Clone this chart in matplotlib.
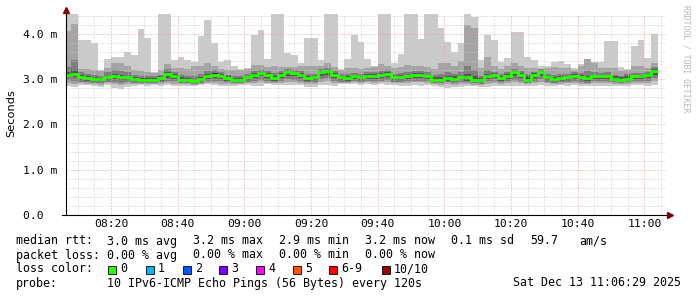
import numpy as np
import matplotlib
matplotlib.use("Agg")
import matplotlib.pyplot as plt
from matplotlib.patches import Rectangle
from matplotlib.lines import Line2D

# 10 pings every 120 s, values in ms, sorted per step (p1 = min ... p10 = max)
rtt_max = [4.6, 4.6, 3.87, 3.87, 3.81, 3.20, 3.45, 3.48, 3.48, 3.60,
           3.54, 4.10, 3.90, 3.15, 4.6, 4.6, 3.42, 3.48, 3.42, 3.38,
           3.95, 4.30, 3.80, 3.38, 3.42, 3.30, 3.22, 3.25, 3.98, 4.08,
           3.44, 4.6, 4.6, 3.57, 3.53, 3.36, 3.90, 3.90, 3.42, 4.6,
           4.6, 3.23, 3.44, 3.98, 3.82, 3.44, 3.30, 4.6, 4.6, 3.36,
           3.55, 4.6, 4.6, 3.88, 4.6, 4.6, 4.12, 3.82, 3.60, 3.80,
           4.6, 4.38, 3.42, 3.97, 3.86, 3.38, 3.47, 4.04, 4.04, 3.48,
           3.42, 3.30, 3.30, 3.38, 3.40, 3.33, 3.24, 3.33, 3.45, 3.39,
           3.38, 3.84, 3.84, 3.27, 3.23, 3.74, 3.86, 3.47, 4.00]
rtt_p9 = [4.07, 4.21, 3.23, 3.23, 3.20, 3.18, 3.25, 3.35, 3.35, 3.30,
          3.20, 3.18, 3.16, 3.13, 3.20, 3.33, 3.25, 3.25, 3.22, 3.30,
          3.30, 3.35, 3.30, 3.22, 3.20, 3.20, 3.20, 3.22, 3.32, 3.32,
          3.28, 3.30, 3.28, 3.28, 3.28, 3.30, 3.30, 3.30, 3.30, 3.35,
          3.28, 3.20, 3.25, 3.25, 3.22, 3.25, 3.28, 3.33, 3.30, 3.25,
          3.28, 3.32, 3.30, 3.30, 3.28, 3.22, 3.35, 3.35, 3.30, 3.40,
          4.20, 4.12, 3.25, 3.50, 3.30, 3.22, 3.30, 3.35, 3.30, 3.25,
          3.25, 3.22, 3.25, 3.28, 3.25, 3.25, 3.20, 3.30, 3.45, 3.35,
          3.25, 3.25, 3.25, 3.18, 3.20, 3.30, 3.30, 3.25, 3.35]
rtt_p8 = [3.28, 3.43, 3.15, 3.12, 3.10, 3.08, 3.15, 3.20, 3.18, 3.15,
          3.10, 3.08, 3.08, 3.06, 3.10, 3.22, 3.16, 3.10, 3.08, 3.08,
          3.12, 3.18, 3.20, 3.15, 3.10, 3.08, 3.08, 3.12, 3.18, 3.20,
          3.17, 3.14, 3.18, 3.22, 3.20, 3.18, 3.12, 3.12, 3.22, 3.25,
          3.18, 3.12, 3.12, 3.14, 3.12, 3.15, 3.15, 3.18, 3.20, 3.12,
          3.14, 3.16, 3.18, 3.18, 3.16, 3.10, 3.12, 3.16, 3.12, 3.15,
          3.30, 3.20, 3.08, 3.20, 3.16, 3.12, 3.15, 3.22, 3.18, 3.12,
          3.16, 3.22, 3.12, 3.10, 3.12, 3.12, 3.15, 3.14, 3.18, 3.16,
          3.14, 3.15, 3.10, 3.08, 3.12, 3.14, 3.14, 3.16, 3.26]
rtt_p7 = [3.16, 3.20, 3.09, 3.06, 3.04, 3.03, 3.08, 3.12, 3.09, 3.08,
          3.04, 3.02, 3.02, 3.02, 3.06, 3.15, 3.12, 3.04, 3.02, 3.00,
          3.05, 3.12, 3.14, 3.11, 3.06, 3.03, 3.03, 3.08, 3.14, 3.16,
          3.13, 3.08, 3.14, 3.19, 3.16, 3.14, 3.07, 3.08, 3.18, 3.21,
          3.14, 3.08, 3.07, 3.10, 3.08, 3.12, 3.11, 3.14, 3.16, 3.08,
          3.09, 3.10, 3.13, 3.14, 3.10, 3.04, 3.05, 3.08, 3.06, 3.08,
          3.12, 3.06, 3.03, 3.12, 3.13, 3.08, 3.11, 3.19, 3.14, 3.06,
          3.13, 3.19, 3.08, 3.05, 3.07, 3.08, 3.11, 3.09, 3.08, 3.10,
          3.10, 3.10, 3.06, 3.04, 3.06, 3.10, 3.10, 3.12, 3.22]
rtt_p6 = [3.12, 3.14, 3.07, 3.03, 3.02, 3.01, 3.06, 3.09, 3.06, 3.05,
          3.02, 2.99, 3.00, 3.00, 3.03, 3.13, 3.10, 3.01, 2.99, 2.97,
          3.02, 3.09, 3.13, 3.09, 3.03, 3.01, 3.00, 3.06, 3.12, 3.14,
          3.11, 3.05, 3.12, 3.17, 3.14, 3.12, 3.05, 3.06, 3.17, 3.20,
          3.12, 3.06, 3.05, 3.08, 3.06, 3.10, 3.09, 3.12, 3.14, 3.06,
          3.06, 3.08, 3.11, 3.12, 3.08, 3.01, 3.01, 3.04, 3.03, 3.06,
          3.06, 3.01, 3.01, 3.09, 3.11, 3.05, 3.09, 3.17, 3.12, 3.02,
          3.11, 3.18, 3.06, 3.02, 3.05, 3.06, 3.09, 3.07, 3.04, 3.08,
          3.08, 3.08, 3.03, 3.01, 3.03, 3.08, 3.08, 3.11, 3.21]
rtt_median = [3.10, 3.12, 3.05, 3.02, 3.00, 3.00, 3.04, 3.07, 3.04, 3.04,
              3.00, 2.98, 2.98, 2.99, 3.02, 3.11, 3.08, 2.99, 2.98, 2.95,
              3.00, 3.07, 3.10, 3.07, 3.02, 2.99, 2.99, 3.04, 3.10, 3.13,
              3.09, 3.03, 3.10, 3.16, 3.13, 3.10, 3.03, 3.04, 3.15, 3.18,
              3.10, 3.04, 3.03, 3.06, 3.04, 3.08, 3.07, 3.10, 3.12, 3.04,
              3.04, 3.06, 3.09, 3.10, 3.06, 2.99, 2.99, 3.02, 3.01, 3.04,
              3.04, 2.99, 2.99, 3.07, 3.09, 3.03, 3.07, 3.15, 3.10, 2.99,
              3.09, 3.16, 3.04, 3.00, 3.03, 3.04, 3.07, 3.05, 3.02, 3.06,
              3.06, 3.06, 3.01, 2.99, 3.01, 3.06, 3.06, 3.09, 3.19]
rtt_p5 = [3.08, 3.10, 3.03, 3.01, 2.98, 2.99, 3.02, 3.05, 3.02, 3.03,
          2.98, 2.97, 2.96, 2.98, 3.01, 3.09, 3.06, 2.97, 2.97, 2.93,
          2.98, 3.05, 3.07, 3.05, 3.01, 2.97, 2.98, 3.02, 3.08, 3.12,
          3.07, 3.01, 3.08, 3.15, 3.12, 3.08, 3.01, 3.02, 3.13, 3.16,
          3.08, 3.02, 3.01, 3.04, 3.02, 3.06, 3.05, 3.08, 3.10, 3.02,
          3.02, 3.04, 3.07, 3.08, 3.04, 2.97, 2.97, 3.00, 2.99, 3.02,
          3.02, 2.97, 2.97, 3.05, 3.07, 3.01, 3.05, 3.13, 3.08, 2.96,
          3.07, 3.14, 3.02, 2.98, 3.01, 3.02, 3.05, 3.03, 3.00, 3.04,
          3.04, 3.04, 2.99, 2.97, 2.99, 3.04, 3.04, 3.07, 3.17]
rtt_p4 = [3.04, 3.05, 2.99, 2.97, 2.95, 2.96, 2.98, 3.00, 2.98, 2.99,
          2.95, 2.94, 2.93, 2.95, 2.97, 3.02, 3.00, 2.94, 2.94, 2.91,
          2.95, 3.00, 3.02, 3.00, 2.97, 2.94, 2.95, 2.98, 3.03, 3.06,
          3.02, 2.97, 3.03, 3.08, 3.06, 3.03, 2.97, 2.98, 3.07, 3.10,
          3.03, 2.98, 2.97, 3.00, 2.98, 3.01, 3.01, 3.03, 3.04, 2.98,
          2.98, 3.00, 3.02, 3.03, 3.00, 2.94, 2.94, 2.96, 2.95, 2.98,
          2.97, 2.94, 2.93, 3.00, 3.02, 2.97, 3.00, 3.06, 3.03, 2.93,
          3.02, 3.07, 2.98, 2.95, 2.97, 2.98, 3.00, 2.99, 2.96, 3.00,
          3.00, 3.00, 2.96, 2.94, 2.96, 3.00, 3.00, 3.02, 3.10]
rtt_p3 = [2.98, 2.97, 2.94, 2.93, 2.92, 2.92, 2.94, 2.93, 2.92, 2.93,
          2.92, 2.92, 2.91, 2.92, 2.93, 2.96, 2.95, 2.92, 2.92, 2.89,
          2.92, 2.95, 2.96, 2.95, 2.93, 2.92, 2.92, 2.94, 2.97, 2.99,
          2.97, 2.94, 2.97, 3.00, 2.99, 2.97, 2.93, 2.94, 3.00, 3.02,
          2.97, 2.94, 2.94, 2.96, 2.94, 2.96, 2.95, 2.97, 2.98, 2.94,
          2.94, 2.95, 2.97, 2.97, 2.95, 2.91, 2.91, 2.93, 2.92, 2.93,
          2.93, 2.91, 2.90, 2.95, 2.97, 2.94, 2.95, 2.99, 2.97, 2.91,
          2.96, 3.00, 2.94, 2.92, 2.93, 2.94, 2.95, 2.94, 2.92, 2.95,
          2.95, 2.95, 2.93, 2.92, 2.93, 2.95, 2.95, 2.96, 3.02]
rtt_p2 = [2.92, 2.90, 2.91, 2.90, 2.89, 2.88, 2.91, 2.89, 2.88, 2.89,
          2.89, 2.90, 2.89, 2.90, 2.90, 2.92, 2.90, 2.90, 2.89, 2.87,
          2.90, 2.92, 2.92, 2.90, 2.89, 2.90, 2.90, 2.91, 2.92, 2.93,
          2.92, 2.91, 2.92, 2.94, 2.93, 2.92, 2.89, 2.89, 2.93, 2.95,
          2.92, 2.92, 2.92, 2.93, 2.92, 2.93, 2.92, 2.93, 2.94, 2.91,
          2.91, 2.92, 2.93, 2.93, 2.92, 2.89, 2.88, 2.89, 2.88, 2.89,
          2.90, 2.88, 2.87, 2.90, 2.91, 2.90, 2.91, 2.94, 2.92, 2.89,
          2.92, 2.94, 2.91, 2.89, 2.90, 2.91, 2.92, 2.90, 2.89, 2.91,
          2.91, 2.91, 2.90, 2.90, 2.90, 2.92, 2.92, 2.92, 2.95]
rtt_min = [2.85, 2.83, 2.88, 2.87, 2.86, 2.83, 2.88, 2.80, 2.79, 2.82,
           2.86, 2.87, 2.86, 2.88, 2.86, 2.87, 2.84, 2.86, 2.85, 2.85,
           2.87, 2.89, 2.87, 2.84, 2.85, 2.86, 2.87, 2.88, 2.86, 2.86,
           2.89, 2.87, 2.87, 2.88, 2.88, 2.87, 2.83, 2.83, 2.88, 2.87,
           2.86, 2.89, 2.89, 2.90, 2.88, 2.89, 2.87, 2.89, 2.88, 2.87,
           2.86, 2.86, 2.87, 2.86, 2.87, 2.86, 2.82, 2.81, 2.82, 2.83,
           2.85, 2.84, 2.82, 2.82, 2.84, 2.86, 2.84, 2.86, 2.85, 2.84,
           2.86, 2.87, 2.86, 2.85, 2.87, 2.86, 2.88, 2.86, 2.84, 2.86,
           2.86, 2.85, 2.85, 2.86, 2.86, 2.87, 2.88, 2.86, 2.87]

loss_labels = ["0", "1", "2", "3", "4", "5", "6-9", "10/10"]
loss_colors = ["#26ff00", "#00b8ff", "#0059ff", "#7e00ff", "#ff00ff",
               "#ff5500", "#ff0000", "#a10000"]

# time axis in minutes since midnight: graph 08:06:29 .. 11:06:29
t_start = 8 * 60 + 6 + 29 / 60
t_end = t_start + 180
edges = np.concatenate([[t_start], np.arange(488, 488 + 2 * 89, 2)])

W, H = 697, 297
fig = plt.figure(figsize=(W / 100, H / 100), dpi=100)
fig.patch.set_facecolor("white")
ax = fig.add_axes([66 / W, 82 / H, 600 / W, 201 / H])
ax.set_xlim(t_start, t_end)
ax.set_ylim(0, 4.44)

mono = "DejaVu Sans Mono"
bands = [(rtt_min, rtt_max, "#cacaca"),
         (rtt_p2, rtt_p9, "#a4a4a4"),
         (rtt_p3, rtt_p8, "#7e7e7e"),
         (rtt_p4, rtt_p7, "#585858"),
         (rtt_p5, rtt_p6, "#323232")]
for lo, hi, col in bands:
    ax.stairs(hi, edges, baseline=lo, fill=True, color=col, lw=0, zorder=1)

ax.stairs(rtt_median, edges, color=loss_colors[0], lw=2.0, zorder=4,
          baseline=None)

# grid
ax.set_xticks(np.arange(500, 661, 20))
ax.set_xticks(np.arange(490, 666, 5), minor=True)
ax.set_yticks([0, 1, 2, 3, 4])
ax.set_yticks(np.arange(0, 4.41, 0.2), minor=True)
ax.set_xticklabels(["%02d:%02d" % (t // 60, t % 60) for t in range(500, 661, 20)])
ax.set_yticklabels(["0.0  ", "1.0 m", "2.0 m", "3.0 m", "4.0 m"])
ax.set_axisbelow(False)
ax.grid(which="minor", color="#c8c8c8", lw=0.72, ls=(0, (1, 2)), zorder=2)
ax.grid(which="major", color="#e4a0a0", lw=0.72, ls=(0, (1, 2)), zorder=3)
ax.tick_params(which="both", length=0, labelsize=8.2, colors="#000000", pad=6)
for lab in ax.get_xticklabels() + ax.get_yticklabels():
    lab.set_family(mono)
ax.tick_params(axis="x", pad=3)
for s in ax.spines.values():
    s.set_visible(False)

# axis lines and arrows
fig.add_artist(Line2D([66 / W, 66 / W], [82 / H, 287 / H], color="black", lw=0.8))
fig.add_artist(Line2D([62 / W, 670 / W], [82 / H, 82 / H], color="black", lw=0.8))
fig.add_artist(Line2D([66 / W], [287 / H], marker="^", ms=4, color="#7f0000", lw=0))
fig.add_artist(Line2D([670 / W], [82 / H], marker=">", ms=4, color="#7f0000", lw=0))

fig.text(11 / W, 1 - 113 / H, "Seconds", rotation=90, ha="center", va="center",
         fontsize=8.2, family="DejaVu Sans")
fig.text(686 / W, 1 - 5 / H, "RRDTOOL / TOBI OETIKER", rotation=270, ha="center",
         va="top", fontsize=5.9, family=mono, color="#b8b8b8")

def put(x, y, s):
    fig.text(x / W, 1 - y / H, s, fontsize=8.4, family=mono, va="center", ha="left")

put(16, 241, "median rtt:")
for x, s in [(107, "3.0 ms avg"), (193, "3.2 ms max"), (279, "2.9 ms min"),
             (365, "3.2 ms now"), (451, "0.1 ms sd"), (530, "59.7"), (579, "am/s")]:
    put(x, 241, s)
put(16, 255, "packet loss:")
for x, s in [(107, "0.00 % avg"), (193, "0.00 % max"), (279, "0.00 % min"),
             (365, "0.00 % now")]:
    put(x, 255, s)
put(16, 269, "loss color:")
box_x = [108, 146, 183, 219, 256, 293, 329, 382]
for bx, lab, col in zip(box_x, loss_labels, loss_colors):
    fig.add_artist(Rectangle((bx / W, 1 - 273.5 / H), 8 / W, 8 / H,
                             facecolor=col, edgecolor="black", lw=0.6))
    put(bx + 12, 269, lab)
put(16, 283, "probe:")
put(107, 283, "10 IPv6-ICMP Echo Pings (56 Bytes) every 120s")
put(513, 283, "Sat Dec 13 11:06:29 2025")

fig.savefig("out.png", dpi=100, facecolor="white")
